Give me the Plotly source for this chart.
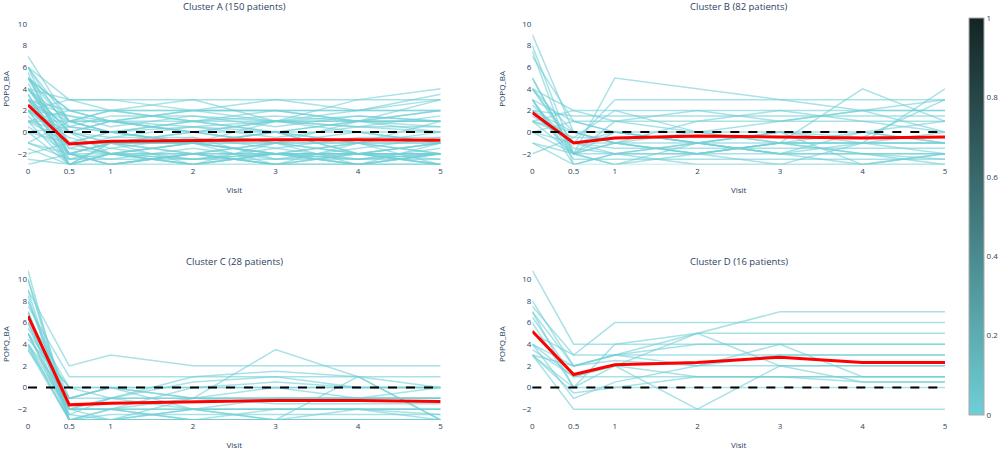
import plotly.graph_objects as go
from plotly.subplots import make_subplots

visits = [0, 0.5, 1, 2, 3, 4, 5]
x_ticks = [0, 0.5, 1, 2, 3, 4, 5]
y_ticks = [-2, 0, 2, 4, 6, 8, 10]
cbar_ticks = [0, 0.2, 0.4, 0.6, 0.8, 1]
cbar_labels = ["0", "0.2", "0.4", "0.6", "0.8", "1"]
cluster_titles = ["Cluster A (150 patients)", "Cluster B (82 patients)",
                  "Cluster C (28 patients)", "Cluster D (16 patients)"]

cluster_a = [
    [7, 1, 0, -1, 0, -2, -1],
    [6, 3, 3, 3, 3, 3, 3],
    [6, 0, -2, -1, -2, -1, -3],
    [5.5, -3, -1, 0, -1, 1, 0],
    [5, 2, 2, 2, 2, 2, 2],
    [5, -1, -2, -3, -2, -2, -3],
    [5, 1, 0, 1, 0, -1, 1],
    [4.5, -2, -3, -2, -3, -3, -2],
    [4, 3, 2, 3, 1, 3, 4],
    [4, -1, 0, -1, 1, 0, -1],
    [4, 0, 1, 0, -1, -2, -2],
    [3.5, -2, -1, -2, -1, -1, -2],
    [3.5, -3, -2, -1, -2, -3, -3],
    [3, 2, 1, 2, 2, 2, 3.5],
    [3, 0.5, 0, 0.5, 0, 1, 1],
    [3, -1, -1, -1, -2, -1, -1],
    [3, -3, -3, -3, -3, -3, -3],
    [2.5, 1, 2, 1, 2, 1, 2],
    [2.5, -2, -1, -2, -1, -2, -1],
    [2, -3, -2, -3, -2, -2, -3],
    [2, 3, 3, 2, 1, 2, 3],
    [2, 0, -1, 0, 0, -1, 0],
    [2, -1, 0, -1, -1, 0, -1],
    [1.5, -2, -3, -2, -2, -3, -2],
    [1, 1, 1, 1, 1, 1, 1],
    [1, -1, -2, -1, -3, -1, -2],
    [1, 0, 1, 0, 1, 0.5, 0.5],
    [0.5, -2, -2, -2, -2, -2, -2],
    [0, 0.5, 0, 1, 0, 0, 0],
    [0, -3, -1, -3, -1, -3, -1],
    [-1, -2, -1, -1, -2, -2, -1],
    [-1, 1, 0, -1, 0, -2, -2],
    [-1.5, -3, -3, -2, -3, -2, -3],
    [-2, -1, -2, -3, -2, -3, -2],
    [-2.5, -3, -3, -3, -3, -3, -3],
    [-3, -2, -3, -2, -3, -3, -3],
    [4, -1.5, -0.5, -0.5, -1.5, -0.5, -0.5],
    [5, 0.5, 1.5, 1.5, 0.5, 1.5, 1],
    [6, -2.5, -1.5, -2.5, -1.5, -2.5, -2],
    [3, 1.5, 0.5, 1.5, 1, 0.5, 1.5],
    [2, -0.5, -1.5, -0.5, -2.5, -1.5, -0.5],
    [1, 2, 2, 2, 2, 1, 2],
    [5, -2, -2.5, -1.5, -2.5, -2, -2.5],
    [4, 0, -0.5, 0.5, -0.5, 0.5, 0],
    [3, -1.5, -2, -2.5, -2, -2.5, -1.5],
    [6, 1, 2, 1, 1.5, 1, 1],
    [2, -2.5, -2.5, -2.5, -2.5, -2.5, -2.5],
    [0, -1, -1, -1, -1, -1, -1],
    [5, 2, 1, 2, 3, 2, 2],
    [3, 0, -1, -1, 0, 1, 0.5],
    [1, -3, -2, -2, -3, -2, -2],
    [4, 1, 1, 0, 1, 1, 3],
    [2, 1.5, 1, 0.5, 1, 1.5, 1],
    [-1, -2.5, -2, -2.5, -2, -2.5, -2],
]
cluster_b = [
    [9, 0, -1, -2, -1, -2, -2],
    [8, -2, 1, 2, 1, 2, 3],
    [7.5, -3, -2, -1, -2, -3, -2],
    [7, 1, 0, -1, 0, 0, -1],
    [5, -2, 5, 4, 3, 2, 0],
    [4, 2, 2, 2, 2, 2, 2],
    [4, -1, 3, 3, 3, 3, 3],
    [4, 0, -1, 0, -1, 4, 1],
    [3, -2, -2, -2, -2, -2, -2],
    [3, 1, 1, 1, 1, 1, 1],
    [3, -3, -3, -3, -3, -3, -3],
    [2.5, -1, 0, -1, 0, -1, 0],
    [2, 1.5, 1.5, 1.5, 1.5, 1.5, 1.5],
    [2, -2, 0, -1, -2, 0, -1],
    [2, 0, -1, -2, -1, -1, -1],
    [1.5, -1, -2, -1, -2, -2, -2.5],
    [1, 2, 1, 0, 1, 2, 2],
    [1, -2, -3, -2, -1, -2, -3],
    [1, -0.5, -0.5, -0.5, -0.5, -0.5, -0.5],
    [0, -2, -1, 1, 2, 1, 0],
    [0, 1, 0, -1, -2, -1, 4],
    [0, -1, -1.5, -1.5, -1.5, -1.5, -1.5],
    [-1, -2, -1, -2, -3, -1, -2],
    [-1, -3, -2, -3, -3, -3, -3],
    [-2, -0.5, 2, 0, -1, 0, 1],
    [3, -2.5, -2.5, -2.5, -2.5, -2.5, -2.5],
    [2, -1, -1, -1, -1, -1, -1],
    [4, -1.5, -2, -2, -1, -1, -1],
    [1, 0, 0, 0, 0, -0.5, 3],
    [5, -2, -3, -1, 0, -3, -2],
]
cluster_c = [
    [10.8, -3, -3, -3, -3, -3, -3],
    [10, -2, -2, -2, -2, -2, -2],
    [9, 2, 3, 2, 2, 2, 2],
    [8.5, -3, -2, -3, -3, -3, -3],
    [8, -1, 0, -1, 0, -1, -1],
    [7.5, 1, 1, 1, 1, 1, 1],
    [7, -2, -3, -1, 3.5, 1, -3],
    [7, -3, -2.5, -2.5, -2.5, -2.5, -2.5],
    [6.5, 0, 0, 0, 0, 0, 0],
    [6, -2, -1, 1, 1.5, 1, 0],
    [6, -3, -3, -3, -3, -3, -3],
    [5.5, -1, 0, -1, -1, -1, -1],
    [5, -2, -2, -3, -2, -2, -2],
    [5, -3, -3, -3, -3, 1, -3],
    [5, -2.5, -1, -2, -1, -1, 0],
    [4.5, 0, -1, 0.5, 1, 0, 0],
    [4, -3, -2, -1, -1.5, -1.5, -1.5],
    [4, -1, 0, -2, -3, -2, -3],
    [3.5, -2, -2, 0, 0.5, 0, 0],
    [3.5, -3, -3, -3, -3, -3, -3],
    [9, -3, -3, -2, -2, -2, -2],
    [8, -2, -1, -1, -1, -1, -1],
    [6, -1, -1, -1, -1, -1, -1],
    [4, -2, -2, -2, -2, -2, -2.5],
    [10, -3, -3, -3, -3, -3, -3],
    [5, 0, 0, 0, 0, 0, 0],
    [7, -2.5, -3, -2, -3, -3, -3],
    [3.8, -3, -3, -3, -3, -3, -3],
]
cluster_d = [
    [10.8, 4, 4, 4, 4, 4, 4],
    [8, 2, 3, 5, 7, 7, 7],
    [7.5, 3, 6, 6, 6, 6, 6],
    [7, 0, 4, 5, 5, 5, 5],
    [7, 2, 3, 4, 4, 4, 4],
    [6, 0, 2, -2, 2, 2, 2],
    [5, 3, 3, 3, 3, 3, 3],
    [4, 1, 2, 5, 2, 0.5, 0.5],
    [4, -1, 0.5, 2, 3, 3, 3],
    [3, -2, -2, -2, -2, -2, -2],
    [3, 2, 3, 2, 4, 1, 1],
    [3, -0.5, 0, 1, 1, 1, 1],
    [3.5, 1, 2, 1, 1, 0.5, 0.5],
    [3, 0, 0, 0, 0, 0, 0],
    [4, 2, 2.5, 2, 2, 2, 2],
    [6.5, 1, 1, 1, 1, 1, 1],
]

mean_a = [2.5, -1.1, -0.85, -0.75, -0.7, -0.7, -0.75]
mean_b = [1.8, -1.0, -0.55, -0.35, -0.45, -0.55, -0.45]
mean_c = [6.6, -1.6, -1.45, -1.35, -1.2, -1.2, -1.3]
mean_d = [5.2, 1.2, 2.1, 2.3, 2.8, 2.3, 2.3]

clusters = [cluster_a, cluster_b, cluster_c, cluster_d]
means = [mean_a, mean_b, mean_c, mean_d]
positions = [(1, 1), (1, 2), (2, 1), (2, 2)]

LINE_COLOR = "rgba(111,207,214,0.6)"
TEXT = "#2a3f5f"

fig = make_subplots(rows=2, cols=2, subplot_titles=cluster_titles,
                    horizontal_spacing=0.1, vertical_spacing=0.255)

for lines, mean, (r, c) in zip(clusters, means, positions):
    for y in lines:
        fig.add_trace(go.Scatter(x=visits, y=y, mode="lines",
                                 line=dict(color=LINE_COLOR, width=1.5),
                                 showlegend=False, hoverinfo="skip"),
                      row=r, col=c)
    fig.add_hline(y=0, line=dict(color="black", dash="dash", width=2), row=r, col=c)
    fig.add_trace(go.Scatter(x=visits, y=mean, mode="lines",
                             line=dict(color="red", width=3), showlegend=False),
                  row=r, col=c)

# colour bar
fig.add_trace(go.Scatter(x=[None], y=[None], mode="markers", showlegend=False,
                         marker=dict(color=[0], cmin=0, cmax=1,
                                     colorscale=[[0, "rgb(111,207,214)"], [1, "rgb(20,36,36)"]],
                                     showscale=True,
                                     colorbar=dict(x=1.026, xanchor="left", xpad=0,
                                                   y=0.5, yanchor="middle",
                                                   len=0.975, ypad=0,
                                                   thickness=15, outlinewidth=1,
                                                   outlinecolor="#aaaaaa",
                                                   ticklabeloverflow="allow",
                                                   tickvals=cbar_ticks,
                                                   ticktext=cbar_labels,
                                                   tickfont=dict(size=8, color=TEXT)))),
              row=1, col=1)

fig.update_xaxes(range=[0, 5], tickvals=x_ticks, showgrid=False, zeroline=False,
                 showline=False, tickfont=dict(size=8, color=TEXT),
                 title=dict(text="Visit", font=dict(size=8, color=TEXT), standoff=12),
                 automargin=False)
fig.update_yaxes(range=[-3, 11], tickvals=y_ticks, showgrid=False, zeroline=False,
                 showline=False, tickfont=dict(size=8, color=TEXT),
                 title=dict(text="POPQ_BA", font=dict(size=8, color=TEXT)),
                 automargin=False)
fig.update_annotations(font=dict(size=9.5, color=TEXT), yshift=-2)

fig.update_layout(width=1000, height=451, template="plotly_white",
                  paper_bgcolor="white", plot_bgcolor="white",
                  margin=dict(l=28, r=55, t=13, b=31, autoexpand=False),
                  font=dict(family="Open Sans, Arial, sans-serif", color=TEXT),
                  showlegend=False)

fig.write_html("out.html", config={"displayModeBar": False},
               post_script="document.body.style.margin='0px';")
